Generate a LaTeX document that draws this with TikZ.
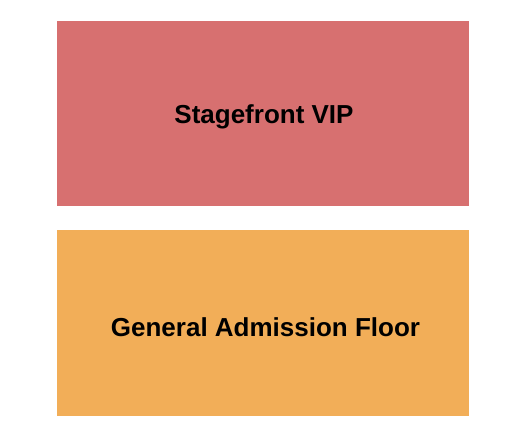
\documentclass[tikz,border=0pt]{standalone}
\usepackage{fontspec}
\setmainfont{Liberation Sans}
\definecolor{vipred}{HTML}{D77070}
\definecolor{gaorange}{HTML}{F2AE58}
\begin{document}
\begin{tikzpicture}[x=1pt,y=-1pt,
  lbl/.style={anchor=base,inner sep=0pt,font=\bfseries\fontsize{26}{30}\selectfont}]
\useasboundingbox[fill=white] (0,0) rectangle (525,444);
\fill[vipred] (57,21) rectangle (469,206);
\fill[gaorange] (57,230) rectangle (469,416);
\node[lbl] (vip) at (264,123) {Stagefront VIP};
\node[lbl] (ga) at (265.5,336.7) {General Admission Floor};
\end{tikzpicture}
\end{document}
